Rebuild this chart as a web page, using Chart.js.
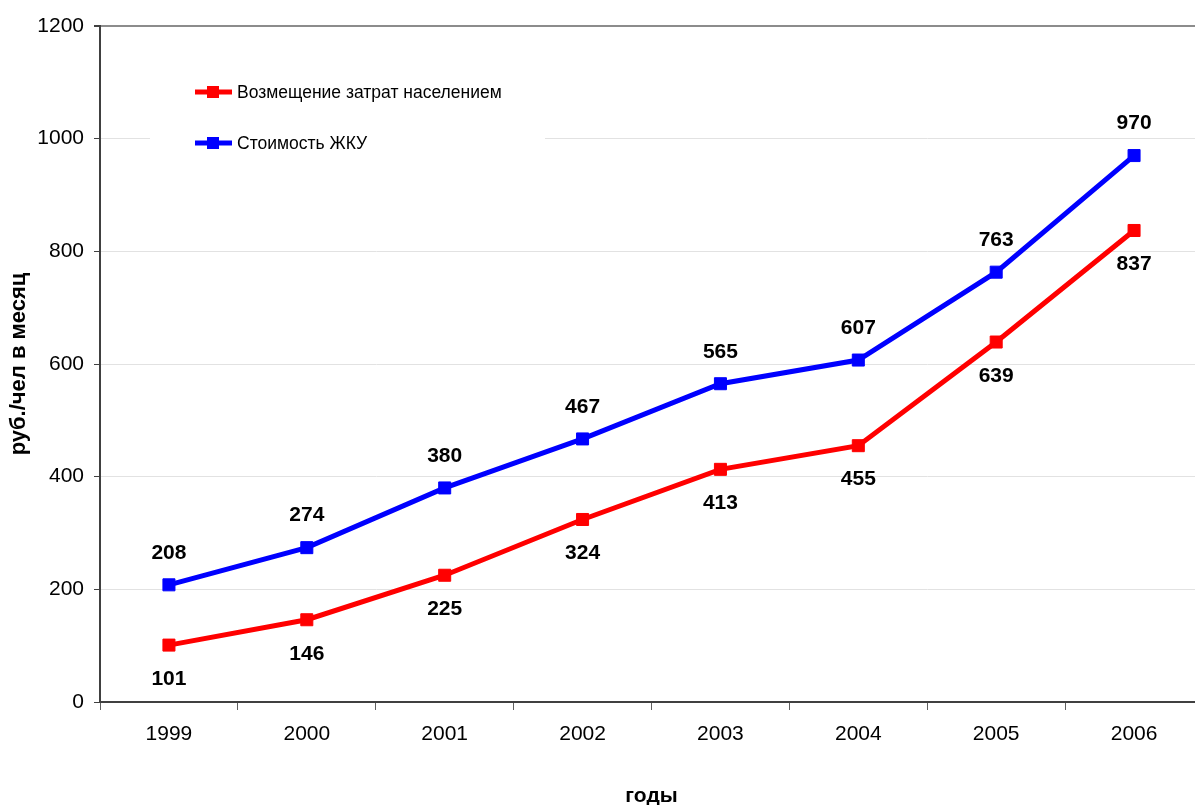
<!DOCTYPE html>
<html>
<head>
<meta charset="utf-8">
<script src="https://cdn.jsdelivr.net/npm/chart.js@4/dist/chart.umd.min.js"></script>
<style>
  html, body { margin: 0; padding: 0; background: #fff; overflow: hidden; }
  #zhkuChart { display: block; }
</style>
</head>
<body>
<canvas id="zhkuChart" width="1215" height="805"></canvas>
<script>
// chart data
var years        = ['1999', '2000', '2001', '2002', '2003', '2004', '2005', '2006'];
var compensation = [101, 146, 225, 324, 413, 455, 639, 837];   // Возмещение затрат населением
var zhkuCost     = [208, 274, 380, 467, 565, 607, 763, 970];   // Стоимость ЖКУ
var yTicks       = [0, 200, 400, 600, 800, 1000, 1200];

var fontName = 'Arial, "Liberation Sans", sans-serif';

// value labels: red under the point, blue above it
var valueLabels = {
  id: 'valueLabels',
  afterDatasetsDraw: function(chart) {
    var ctx = chart.ctx;
    ctx.save();
    ctx.font = 'bold 21px ' + fontName;
    ctx.fillStyle = '#000';
    ctx.textAlign = 'center';
    ctx.textBaseline = 'middle';
    chart.data.datasets.forEach(function(ds, i) {
      var meta = chart.getDatasetMeta(i);
      meta.data.forEach(function(pt, j) {
        var dy = ds.labelBelow ? 34 : -32;
        ctx.fillText(ds.data[j], pt.x, pt.y + dy);
      });
    });
    ctx.restore();
  }
};

// legend sits in a white box inside the plot
var boxLegend = {
  id: 'boxLegend',
  beforeDatasetsDraw: function(chart) {
    var ctx = chart.ctx;
    ctx.save();
    ctx.fillStyle = '#fff';
    ctx.fillRect(150, 58, 395, 115);
    ctx.font = '17.5px ' + fontName;
    ctx.textBaseline = 'middle';
    chart.data.datasets.forEach(function(ds, i) {
      var y = 92 + i * 51;
      ctx.strokeStyle = ds.borderColor;
      ctx.lineWidth = 5;
      ctx.beginPath();
      ctx.moveTo(195, y);
      ctx.lineTo(232, y);
      ctx.stroke();
      ctx.fillStyle = ds.borderColor;
      ctx.fillRect(207, y - 6, 12, 12);
      ctx.fillStyle = '#000';
      ctx.fillText(ds.label, 237, y + 1);
    });
    ctx.restore();
  }
};

var chartCanvas = document.getElementById('zhkuChart').getContext('2d');

var zhkuChart = new Chart(chartCanvas, {
  type: 'line',
  data: {
    labels: years,
    datasets: [
      {
        label: 'Возмещение затрат населением',
        data: compensation,
        borderColor: '#ff0000',
        backgroundColor: '#ff0000',
        borderWidth: 5,
        pointStyle: 'rect',
        pointRadius: 8.5,
        pointBorderWidth: 1,
        tension: 0,
        labelBelow: true
      },
      {
        label: 'Стоимость ЖКУ',
        data: zhkuCost,
        borderColor: '#0000ff',
        backgroundColor: '#0000ff',
        borderWidth: 5,
        pointStyle: 'rect',
        pointRadius: 8.5,
        pointBorderWidth: 1,
        tension: 0,
        labelBelow: false
      }
    ]
  },
  options: {
    responsive: false,
    animation: false,
    layout: { padding: { left: 0, top: 26, right: 12, bottom: 0 } },
    plugins: {
      legend: { display: false },
      tooltip: { enabled: false }
    },
    scales: {
      x: {
        offset: true,
        border: { color: '#404040', width: 2 },
        grid: {
          offset: true,
          drawOnChartArea: false,
          drawTicks: true,
          tickLength: 8,
          tickColor: '#606060'
        },
        ticks: {
          color: '#000',
          padding: 12,
          maxRotation: 0,
          font: { family: fontName, size: 21 }
        },
        title: {
          display: true,
          text: 'годы',
          color: '#000',
          padding: { top: 0, bottom: -2 },
          font: { family: fontName, size: 21, weight: 'bold', lineHeight: 1 }
        },
        afterFit: function(scale) { scale.height = 103; }
      },
      y: {
        min: 0,
        max: 1200,
        border: { color: '#404040', width: 2 },
        grid: {
          color: function(c) { return c.tick && c.tick.value === 1200 ? '#8c8c8c' : '#e2e2e2'; },
          lineWidth: function(c) { return c.tick && c.tick.value === 1200 ? 2 : 1; },
          tickLength: 6,
          tickColor: '#404040'
        },
        afterBuildTicks: function(scale) {
          scale.ticks = yTicks.map(function(v) { return { value: v }; });
        },
        ticks: {
          color: '#000',
          padding: 10,
          font: { family: fontName, size: 21 },
          callback: function(v) { return String(v); }
        },
        title: {
          display: true,
          text: 'руб./чел в месяц',
          color: '#000',
          padding: { top: 8, bottom: 0 },
          font: { family: fontName, size: 22, weight: 'bold', lineHeight: 1 }
        },
        afterFit: function(scale) { scale.width = 100; }
      }
    }
  },
  plugins: [boxLegend, valueLabels]
});
</script>
</body>
</html>
